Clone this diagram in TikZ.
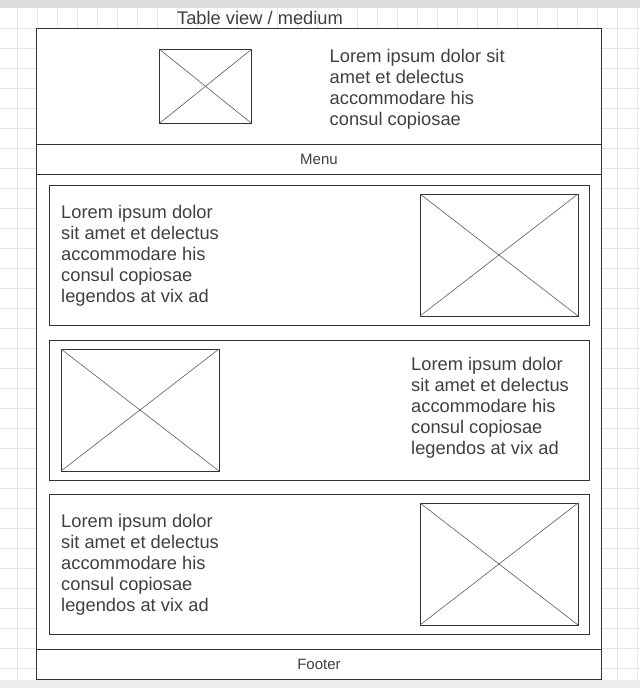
\documentclass[tikz,border=0pt]{standalone}
\usepackage{fontspec}
\setmainfont{Liberation Sans}
\usetikzlibrary{positioning}
\definecolor{gridcolor}{RGB}{230,230,230}
\definecolor{barcolor}{RGB}{221,221,221}
\definecolor{lowbarcolor}{RGB}{236,236,236}
\definecolor{wireline}{RGB}{51,51,51}
\definecolor{wiretext}{RGB}{64,64,64}
\tikzset{
    panel/.style={rectangle, draw=wireline, fill=white, line width=1pt,
        inner sep=0pt, outer sep=0pt, minimum width=564.6pt},
    card/.style={panel, minimum width=540pt, minimum height=140pt},
    imgbox/.style={rectangle, draw=wireline, line width=0.9pt, inner sep=0pt, outer sep=0pt},
    cross/.style={draw=wireline!80, line width=0.6pt},
    lorem/.style={font=\fontsize{18.3}{21}\selectfont, text=wiretext, align=left, inner sep=0pt},
    bartext/.style={font=\fontsize{15}{18}\selectfont, text=wiretext, inner sep=0pt},
    gridline/.style={draw=gridcolor, line width=0.8pt}
}
\newcommand{\loremcard}{Lorem ipsum dolor\\sit amet et delectus\\accommodare his\\consul copiosae\\legendos at vix ad}

\begin{document}
\begin{tikzpicture}[x=1pt, y=-1pt]

    \useasboundingbox (0,0) rectangle (640,688);

    % canvas
    \fill[barcolor] (0,0) rectangle (640,8);
    \fill[lowbarcolor] (0,680) rectangle (640,688);
    \foreach \gx in {17,37,...,637} \draw[gridline] (\gx,8) -- (\gx,680);
    \foreach \gy in {28,48,...,668} \draw[gridline] (0,\gy+0.3) -- (640,\gy+0.3);

    \node[font=\fontsize{18.3}{21}\selectfont, text=wiretext, inner sep=0pt] (title) at (260,17.7) {Table view / medium};

    % page sections
    \node[panel, minimum height=116pt, anchor=north west] (header) at (36.7,28.3) {};
    \node[panel, minimum height=30pt, below=0pt of header] (menu) {};
    \node[panel, minimum height=475pt, below=0pt of menu] (content) {};
    \node[panel, minimum height=30pt, below=0pt of content] (footer) {};

    \node[bartext] (menulabel) at (menu) {Menu};
    \node[bartext] (footerlabel) at (footer) {Footer};

    \node[imgbox, minimum width=92pt, minimum height=74pt] (himg) at (205.5,86.3) {};
    \node[lorem, anchor=north west] (htext) at (329.5,49.3) {Lorem ipsum dolor sit\\amet et delectus\\accommodare his\\consul copiosae};

    % cards
    \node[card, below=10.7pt of content.north] (card1) {};
    \node[card, below=15pt of card1] (card2) {};
    \node[card, below=14pt of card2] (card3) {};

    \node[imgbox, minimum width=158pt, minimum height=122pt, left=11pt of card1.east] (img1) {};
    \node[imgbox, minimum width=158pt, minimum height=122pt, right=12pt of card2.west] (img2) {};
    \node[imgbox, minimum width=158pt, minimum height=122pt, left=11pt of card3.east] (img3) {};

    \node[lorem, right=12pt of card1.west, yshift=-1pt] (text1) {\loremcard};
    \node[lorem, right=362pt of card2.west, yshift=2pt] (text2) {\loremcard};
    \node[lorem, right=12pt of card3.west, yshift=-1pt] (text3) {\loremcard};

    \foreach \n in {himg,img1,img2,img3} {
        \draw[cross] (\n.north west) -- (\n.south east);
        \draw[cross] (\n.south west) -- (\n.north east);
    }

\end{tikzpicture}
\end{document}
